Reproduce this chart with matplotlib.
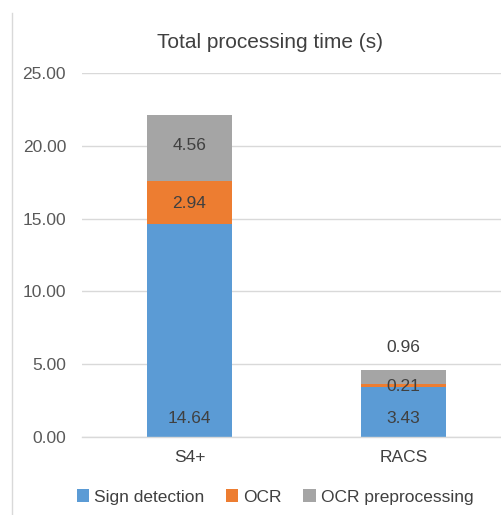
import numpy as np
import matplotlib.pyplot as plt
from matplotlib.lines import Line2D

plt.rcParams['font.family'] = ['Liberation Sans', 'DejaVu Sans']

# data
categories = ['S4+', 'RACS']
sign_detection = [14.64, 3.43]
ocr = [2.94, 0.21]
ocr_pre = [4.56, 0.96]
series_names = ['Sign detection', 'OCR', 'OCR preprocessing']
colors = ['#5b9bd5', '#ed7d31', '#a5a5a5']

fig = plt.figure(figsize=(5.02, 5.15), dpi=100)
ax = fig.add_axes([82 / 502, 1 - 437 / 515, 1 - 82 / 502, (437 - 73) / 515])

x = np.arange(len(categories))
w = 0.4
fs = 12.5
series = [sign_detection, ocr, ocr_pre]
bottom = np.zeros(len(categories))
bars = []
for vals, c, name in zip(series, colors, series_names):
    b = ax.bar(x, vals, w, bottom=bottom, color=c, linewidth=0,
               label=name, zorder=2)
    bars.append((b, np.array(vals), bottom.copy()))
    bottom = bottom + np.array(vals)

txt = dict(ha='center', va='center', fontsize=fs, color='#404040')
# sign detection labels: inside base
b, vals, base = bars[0]
for xi, v in zip(x, vals):
    ax.annotate(f'{v:.2f}', (xi, 0), xytext=(0, 13), textcoords='offset points', **txt)
# OCR labels: centered
b, vals, base = bars[1]
for xi, v, bs in zip(x, vals, base):
    ax.annotate(f'{v:.2f}', (xi, bs + v / 2), xytext=(0, -1), textcoords='offset points', **txt)
# OCR preprocessing labels: centered, small one above bar
b, vals, base = bars[2]
for xi, v, bs in zip(x, vals, base):
    if v > 2:
        ax.annotate(f'{v:.2f}', (xi, bs + v / 2), xytext=(0, 2), textcoords='offset points', **txt)
    else:
        ax.annotate(f'{v:.2f}', (xi, bs + v), xytext=(0, 16.5), textcoords='offset points', **txt)

ax.set_xlim(-0.502, 1.46)
ax.set_ylim(0, 25)
ax.set_yticks(np.arange(0, 26, 5))
ax.set_yticklabels([f'{t:.2f}' for t in np.arange(0, 26, 5)])
ax.set_xticks(x)
ax.set_xticklabels(categories)
ax.tick_params(axis='y', length=0, pad=11.5, labelsize=fs, labelcolor='#595959')
ax.tick_params(axis='x', length=0, pad=9, labelsize=fs, labelcolor='#404040')
ax.yaxis.grid(True, color='#d9d9d9', linewidth=1, zorder=0)
ax.set_axisbelow(True)
for s in ['top', 'right', 'left']:
    ax.spines[s].set_visible(False)
ax.spines['bottom'].set_color('#d9d9d9')
ax.spines['bottom'].set_linewidth(1)

fig.text(270 / 502, 1 - 42 / 515, 'Total processing time (s)', ha='center',
         va='center', fontsize=15, color='#404040')

fig.legend(loc='center', bbox_to_anchor=(275 / 502, 1 - 497 / 515), ncol=3,
           frameon=False, fontsize=fs, handlelength=0.7, handleheight=0.7,
           handletextpad=0.3, columnspacing=1.25, labelcolor='#404040')

# chart border on the left
fig.add_artist(Line2D([12 / 502, 12 / 502], [0, 1 - 13 / 515],
                      transform=fig.transFigure, color='#d9d9d9', linewidth=1))

fig.savefig('out.png', dpi=100)
